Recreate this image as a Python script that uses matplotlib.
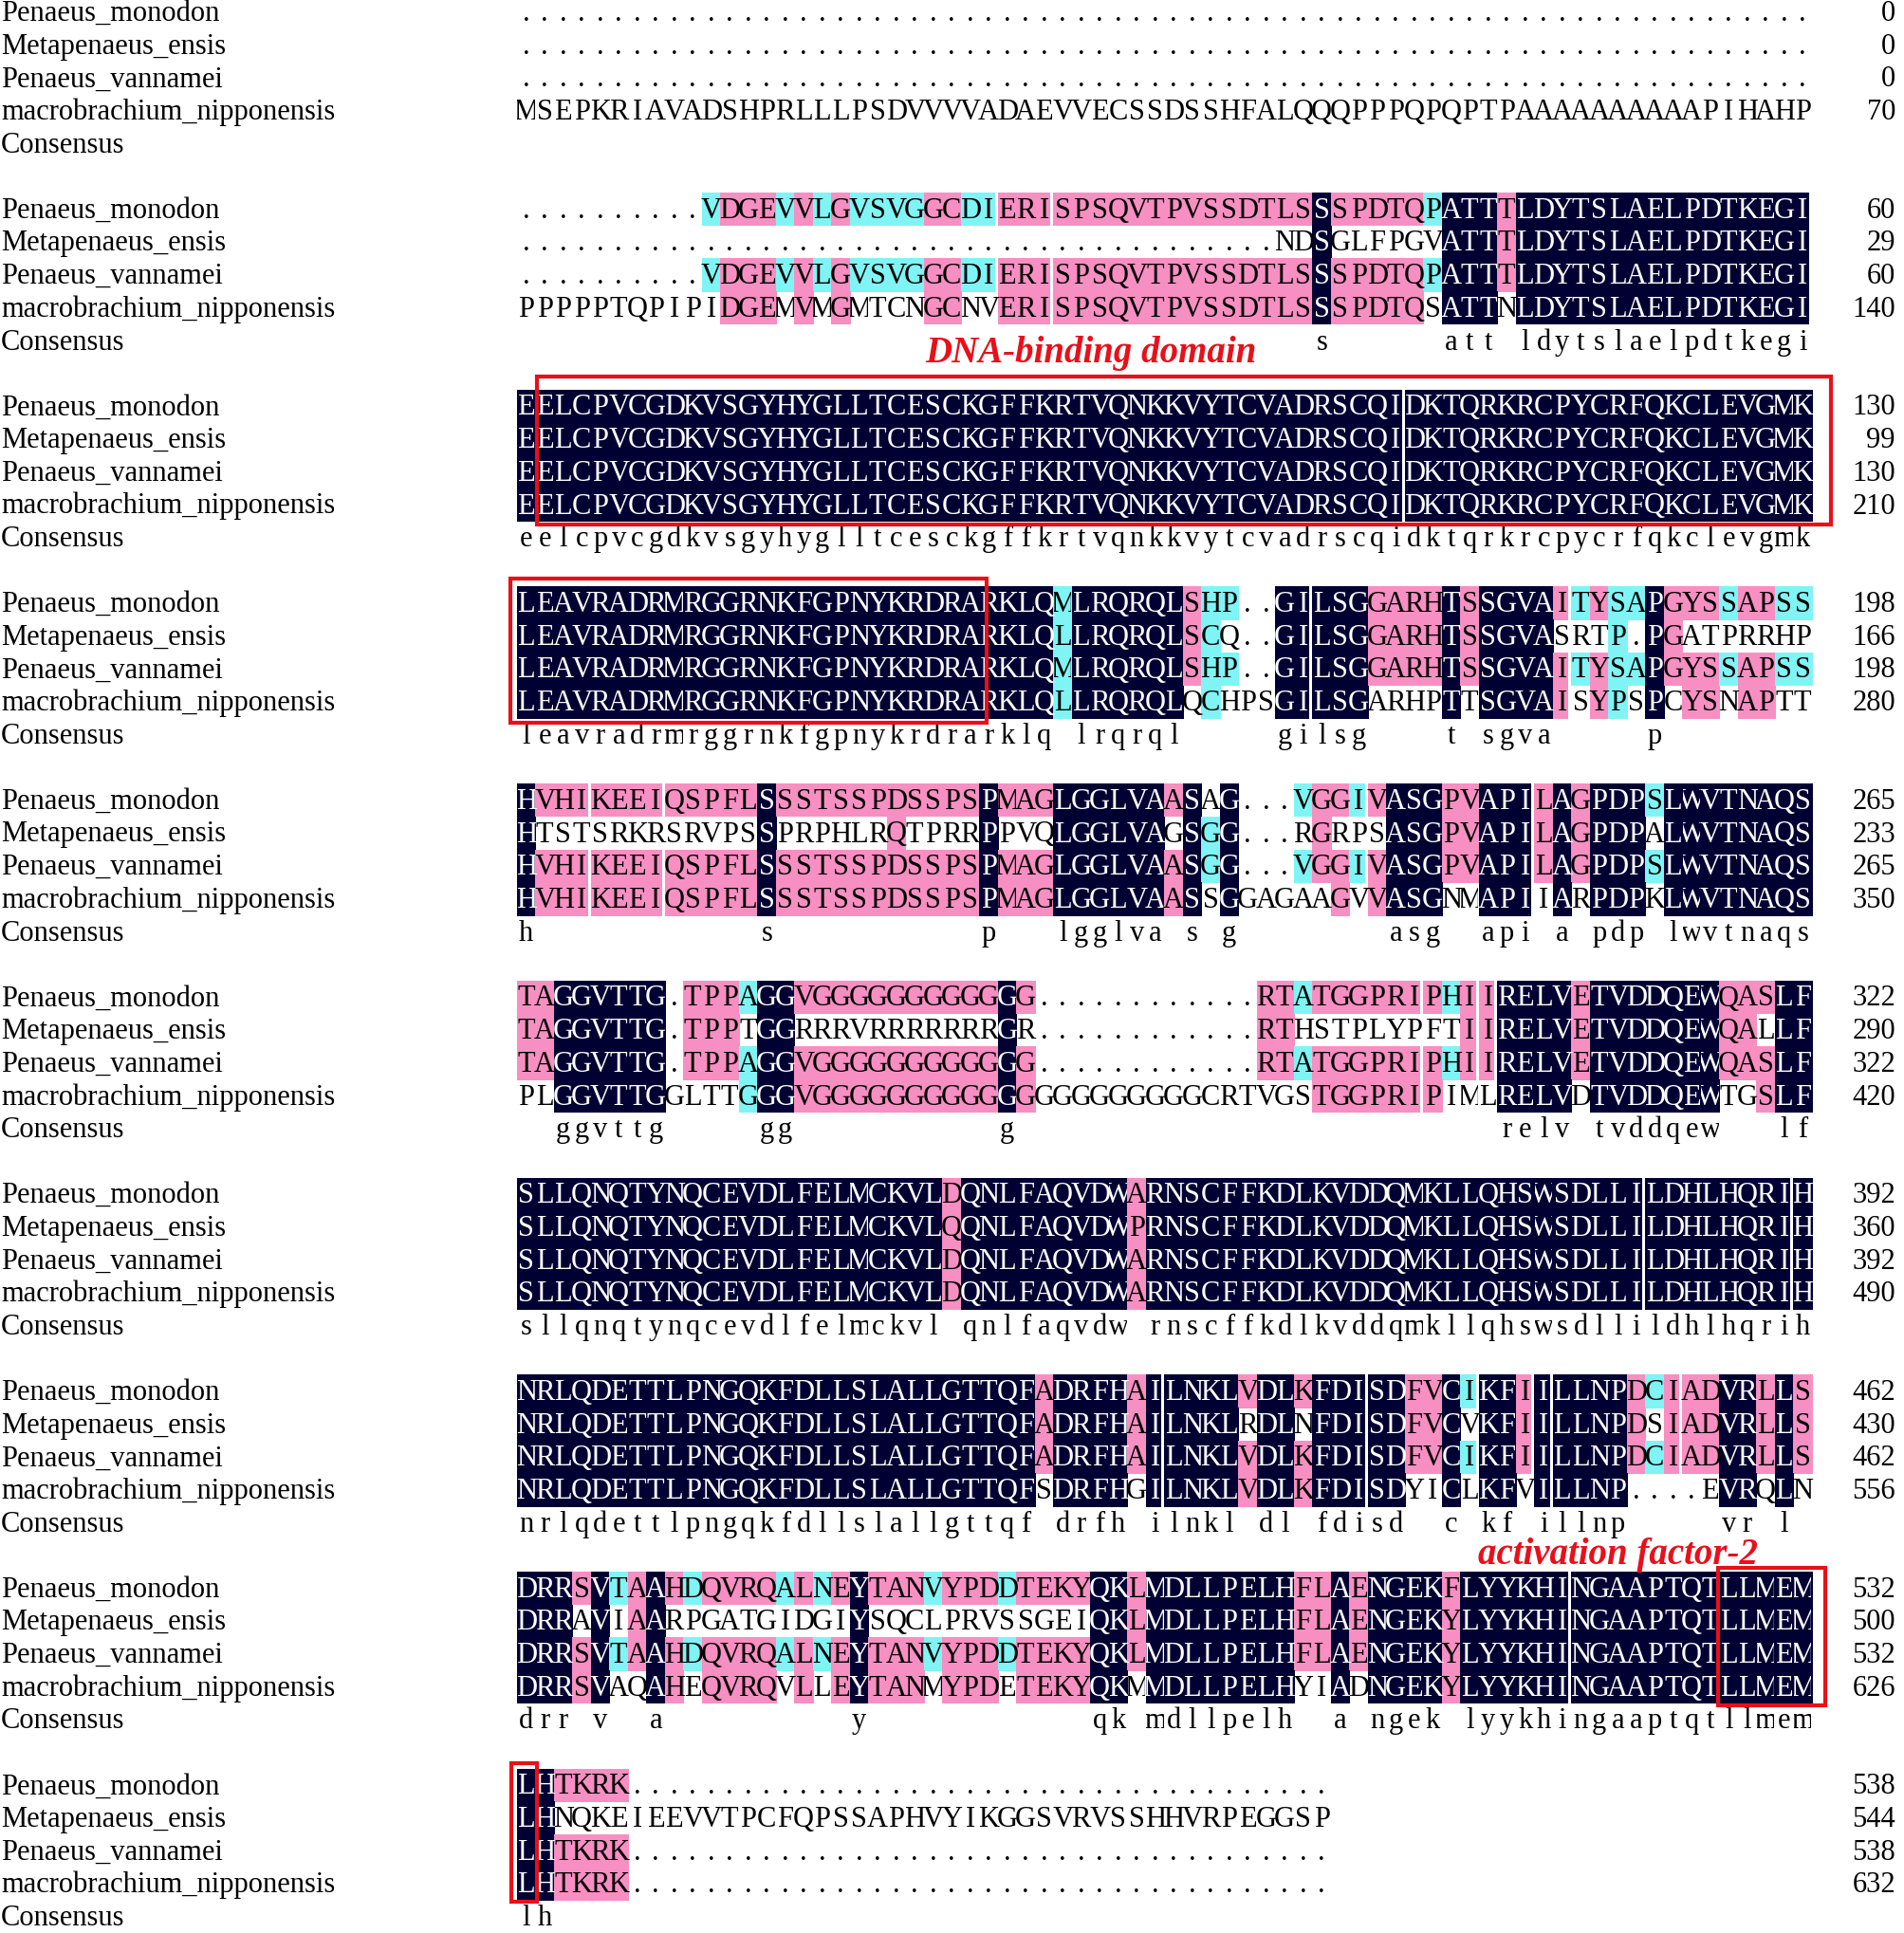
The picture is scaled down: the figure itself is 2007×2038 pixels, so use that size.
import matplotlib
matplotlib.use("Agg")
import matplotlib.pyplot as plt
from matplotlib.patches import Rectangle
from matplotlib.transforms import Bbox, TransformedBbox
from collections import Counter

# ---- alignment data (DNAMAN style, 70 columns per block) ----
names = ["Penaeus_monodon", "Metapenaeus_ensis", "Penaeus_vannamei",
         "macrobrachium_nipponensis"]

mono = [
    "......................................................................",
    "..........VDGEVVLGVSVGGCDIERISPSQVTPVSSDTLSSSPDTQPATTTLDYTSLAELPDTKEGI",
    "EELCPVCGDKVSGYHYGLLTCESCKGFFKRTVQNKKVYTCVADRSCQIDKTQRKRCPYCRFQKCLEVGMK",
    "LEAVRADRMRGGRNKFGPNYKRDRARKLQMLRQRQLSHP..GILSGGARHTSSGVAITYSAPGYSSAPSS",
    "HVHIKEEIQSPFLSSSTSSPDSSPSPMAGLGGLVAASAG...VGGIVASGPVAPILAGPDPSLWVTNAQS",
    "TAGGVTTG.TPPAGGVGGGGGGGGGGGG............RTATGGPRIPHIIRELVETVDDQEWQASLF",
    "SLLQNQTYNQCEVDLFELMCKVLDQNLFAQVDWARNSCFFKDLKVDDQMKLLQHSWSDLLILDHLHQRIH",
    "NRLQDETTLPNGQKFDLLSLALLGTTQFADRFHAILNKLVDLKFDISDFVCIKFIILLNPDCIADVRLLS",
    "DRRSVTAAHDQVRQALNEYTANVYPDDTEKYQKLMDLLPELHFLAENGEKFLYYKHINGAAPTQTLLMEM",
    "LHTKRK......................................",
]
meta = [
    "......................................................................",
    ".........................................NDSGLFPGVATTTLDYTSLAELPDTKEGI",
    "EELCPVCGDKVSGYHYGLLTCESCKGFFKRTVQNKKVYTCVADRSCQIDKTQRKRCPYCRFQKCLEVGMK",
    "LEAVRADRMRGGRNKFGPNYKRDRARKLQLLRQRQLSCQ..GILSGGARHTSSGVASRTP.PGATPRRHP",
    "HTSTSRKRSRVPSSPRPHLRQTPRRPPVQLGGLVAGSGG...RGRPSASGPVAPILAGPDPALWVTNAQS",
    "TAGGVTTG.TPPTGGRRRVRRRRRRRGR............RTHSTPLYPFTIIRELVETVDDQEWQALLF",
    "SLLQNQTYNQCEVDLFELMCKVLQQNLFAQVDWPRNSCFFKDLKVDDQMKLLQHSWSDLLILDHLHQRIH",
    "NRLQDETTLPNGQKFDLLSLALLGTTQFADRFHAILNKLRDLNFDISDFVCVKFIILLNPDSIADVRLLS",
    "DRRAVIAARPGATGIDGIYSQCLPRVSSGEIQKLMDLLPELHFLAENGEKYLYYKHINGAAPTQTLLMEM",
    "LHNQKEIEEVVTPCFQPSSAPHVYIKGGSVRVSSHHVRPEGGSP",
]
vann = [
    "......................................................................",
    "..........VDGEVVLGVSVGGCDIERISPSQVTPVSSDTLSSSPDTQPATTTLDYTSLAELPDTKEGI",
    "EELCPVCGDKVSGYHYGLLTCESCKGFFKRTVQNKKVYTCVADRSCQIDKTQRKRCPYCRFQKCLEVGMK",
    "LEAVRADRMRGGRNKFGPNYKRDRARKLQMLRQRQLSHP..GILSGGARHTSSGVAITYSAPGYSSAPSS",
    "HVHIKEEIQSPFLSSSTSSPDSSPSPMAGLGGLVAASGG...VGGIVASGPVAPILAGPDPSLWVTNAQS",
    "TAGGVTTG.TPPAGGVGGGGGGGGGGGG............RTATGGPRIPHIIRELVETVDDQEWQASLF",
    "SLLQNQTYNQCEVDLFELMCKVLDQNLFAQVDWARNSCFFKDLKVDDQMKLLQHSWSDLLILDHLHQRIH",
    "NRLQDETTLPNGQKFDLLSLALLGTTQFADRFHAILNKLVDLKFDISDFVCIKFIILLNPDCIADVRLLS",
    "DRRSVTAAHDQVRQALNEYTANVYPDDTEKYQKLMDLLPELHFLAENGEKYLYYKHINGAAPTQTLLMEM",
    "LHTKRK......................................",
]
macro = [
    "MSEPKRIAVADSHPRLLLPSDVVVVADAEVVECSSDSSHFALQQQPPPQPQPTPAAAAAAAAAAPIHAHP",
    "PPPPPTQPIPIDGEMVMGMTCNGCNVERISPSQVTPVSSDTLSSSPDTQSATTNLDYTSLAELPDTKEGI",
    "EELCPVCGDKVSGYHYGLLTCESCKGFFKRTVQNKKVYTCVADRSCQIDKTQRKRCPYCRFQKCLEVGMK",
    "LEAVRADRMRGGRNKFGPNYKRDRARKLQLLRQRQLQCHPSGILSGARHPTTSGVAISYPSPCYSNAPTT",
    "HVHIKEEIQSPFLSSSTSSPDSSPSPMAGLGGLVAASSGGAGAAGVVASGNMAPIIARPDPKLWVTNAQS",
    "PLGGVTTGGLTTGGGVGGGGGGGGGGGGGGGGGGGGGCRTVGSTGGPRIPIMLRELVDTVDDQEWTGSLF",
    "SLLQNQTYNQCEVDLFELMCKVLDQNLFAQVDWARNSCFFKDLKVDDQMKLLQHSWSDLLILDHLHQRIH",
    "NRLQDETTLPNGQKFDLLSLALLGTTQFSDRFHGILNKLVDLKFDISDYICLKFVILLNP....EVRQLN",
    "DRRSVAQAHEQVRQVLLEYTANMYPDETEKYQKMMDLLPELHYIADNGEKYLYYKHINGAAPTQTLLMEM",
    "LHTKRK......................................",
]

# residues DNAMAN shaded as similar: (block, row, column 1-based, shade)
extra_shading = [(4, 1, 21, "pink"), (5, 3, 13, "cyan"),
                 (6, 1, 24, "pink"), (6, 1, 34, "pink"), (8, 0, 51, "pink")]

# red labels: (text, block whose consensus row they sit under, column, offset)
labels = [("DNA-binding domain", 1, 31.0, 22),
          ("activation factor-2", 7, 59.5, 43)]
# red boxes: (block, first col, last col, left, right, top, bottom padding)
boxes = [(2, 2, 70, -1.5, 20, 14, 3), (3, 1, 25, 7, 8, 9, 4),
         (8, 66, 70, 1.5, 14, 4, 2), (9, 1, 1, 6, 1.5, 6, 1)]

# ---- layout (pixels) ----
W, H = 2008, 2038
X0, COL_W = 545, 19.5
TOP, ROW_H, BLOCK_H = 13, 34.7, 207.7
BASE = 9
NUM_X = 1998
FONT = "Liberation Serif"
FS = 22
colors = {"navy": "#000033", "pink": "#f78fc2", "cyan": "#80f4f4"}
RED = "#e8101a"
WIDE = "MW"   # glyphs wider than a column get clipped to their cell, as DNAMAN does


def shade_block(rows):
    ncol = max(len(r) for r in rows)
    shades = [[None] * ncol for _ in rows]
    consensus = [" "] * ncol
    for c in range(ncol):
        col = [r[c] if c < len(r) else "." for r in rows]
        counts = Counter(ch for ch in col if ch != ".")
        if not counts:
            continue
        top = max(counts.values())
        for i, ch in enumerate(col):
            if ch == ".":
                continue
            if top == 4:
                shades[i][c] = "navy"
                consensus[c] = ch.lower()
            elif top == 3 and counts[ch] == 3:
                shades[i][c] = "pink"
            elif top == 2 and counts[ch] == 2:
                shades[i][c] = "cyan"
    return shades, "".join(consensus)


fig = plt.figure(figsize=(W / 100, H / 100), dpi=100)
ax = fig.add_axes([0, 0, 1, 1])
ax.set_xlim(0, W)
ax.set_ylim(H, 0)
ax.axis("off")


def put_char(x, yc, ch, color):
    t = ax.text(x + COL_W / 2, yc + BASE, ch, ha="center", va="baseline",
                fontsize=FS, family=FONT, zorder=2, color=color)
    if ch.upper() in WIDE:
        box = Bbox([[x + 0.5, yc - ROW_H / 2], [x + COL_W - 0.5, yc + ROW_H / 2]])
        t.set_clip_box(TransformedBbox(box, ax.transData))
        t.set_clip_on(True)


totals = [0, 0, 0, 0]
for b in range(len(mono)):
    rows = [mono[b], meta[b], vann[b], macro[b]]
    shades, consensus = shade_block(rows)
    for blk, r, c, s in extra_shading:
        if blk == b:
            shades[r][c - 1] = s
    y0 = TOP + b * BLOCK_H
    for r, seq in enumerate(rows):
        yc = y0 + r * ROW_H
        ax.text(1, yc + BASE, names[r], ha="left", va="baseline",
                fontsize=FS, family=FONT, color="black")
        for c, ch in enumerate(seq):
            x = X0 + c * COL_W
            s = shades[r][c]
            if s:
                w = COL_W - 3 if ch == "I" else COL_W + 0.6
                ax.add_patch(Rectangle((x, yc - ROW_H / 2 - 0.3), w, ROW_H + 0.6,
                                       facecolor=colors[s], edgecolor="none",
                                       antialiased=False, zorder=1))
            put_char(x, yc, ch, "white" if s == "navy" else "black")
        totals[r] += sum(1 for ch in seq if ch != ".")
        ax.text(NUM_X, yc + BASE, str(totals[r]), ha="right", va="baseline",
                fontsize=FS, family=FONT, color="black")
    yc = y0 + 4 * ROW_H
    ax.text(1, yc + BASE, "Consensus", ha="left", va="baseline",
            fontsize=FS, family=FONT, color="black")
    for c, ch in enumerate(consensus):
        if ch != " ":
            put_char(X0 + c * COL_W, yc, ch, "black")

for text, b, col, off in labels:
    yc = TOP + b * BLOCK_H + 4 * ROW_H
    ax.text(X0 + col * COL_W, yc + off, text, ha="center", va="baseline",
            fontsize=28, family=FONT, style="italic", weight="bold",
            color=RED, zorder=4)

for b, c1, c2, lp, rp, tp, bp in boxes:
    top = TOP + b * BLOCK_H - ROW_H / 2 - tp
    bottom = TOP + b * BLOCK_H + 3 * ROW_H + ROW_H / 2 + bp
    left = X0 + (c1 - 1) * COL_W - lp
    right = X0 + c2 * COL_W + rp
    ax.add_patch(Rectangle((left, top), right - left, bottom - top,
                           facecolor="none", edgecolor=RED, linewidth=3,
                           zorder=5))

fig.savefig("out.png", dpi=100)
